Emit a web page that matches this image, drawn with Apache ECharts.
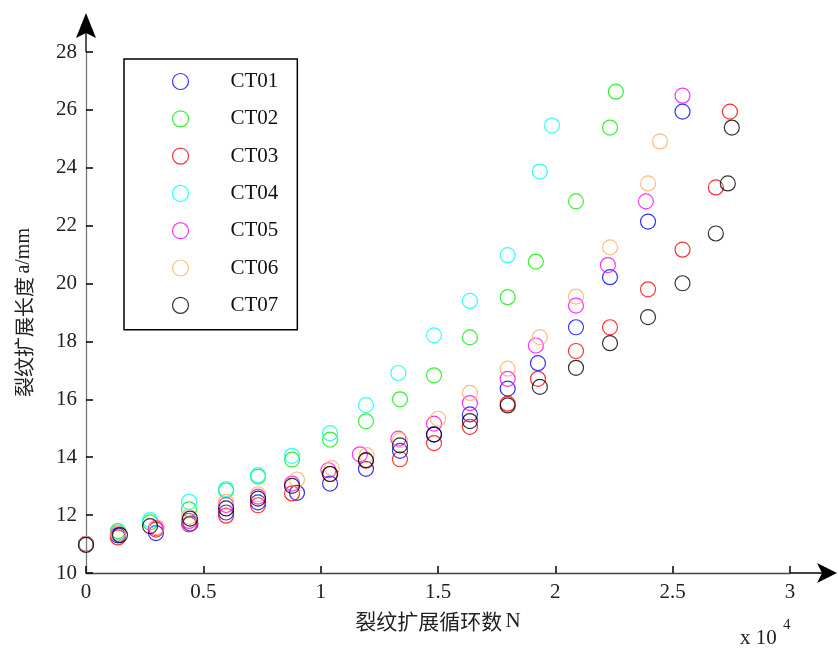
<!DOCTYPE html>
<html>
<head>
<meta charset="utf-8">
<script src="https://cdn.jsdelivr.net/npm/echarts@6/dist/echarts.min.js"></script>
<style>
  html, body { margin: 0; padding: 0; background: #fff; }
  #chart { width: 838px; height: 648px; }
</style>
</head>
<body>
<div id="chart"></div>
<script>
// x values are in units of 10^4 cycles (axis labels 0..3, "x 10^4")
const seriesNames = ['CT01', 'CT02', 'CT03', 'CT04', 'CT05', 'CT06', 'CT07'];
const seriesColors = ['#0000ff', '#00ee00', '#ff0000', '#00ffff', '#ff00ff', '#ffad60', '#000000'];

const ct01N = [0, 0.136, 0.298, 0.445, 0.597, 0.733, 0.899, 1.040, 1.193, 1.338, 1.483, 1.636, 1.797, 1.926, 2.088, 2.233, 2.395, 2.542];
const ct01A = [11.0, 11.3, 11.38, 11.71, 12.09, 12.44, 12.77, 13.09, 13.6, 14.22, 14.78, 15.48, 16.37, 17.25, 18.49, 20.22, 22.14, 25.94];

const ct02N = [0, 0.136, 0.273, 0.439, 0.597, 0.733, 0.878, 1.040, 1.193, 1.338, 1.483, 1.636, 1.797, 1.917, 2.088, 2.233, 2.258];
const ct02A = [11.0, 11.45, 11.75, 12.2, 12.85, 13.33, 13.92, 14.61, 15.24, 16.0, 16.83, 18.14, 19.53, 20.76, 22.84, 25.39, 26.63];

const ct03N = [0, 0.136, 0.298, 0.439, 0.597, 0.733, 0.878, 1.040, 1.193, 1.338, 1.483, 1.636, 1.797, 1.926, 2.088, 2.233, 2.395, 2.542, 2.684, 2.744];
const ct03A = [11.0, 11.23, 11.5, 11.68, 11.98, 12.34, 12.75, 13.42, 13.88, 13.93, 14.49, 15.05, 15.85, 16.71, 17.67, 18.49, 19.8, 21.17, 23.32, 25.94];

const ct04N = [0, 0.136, 0.273, 0.439, 0.597, 0.733, 0.878, 1.040, 1.193, 1.331, 1.483, 1.636, 1.797, 1.934, 1.986];
const ct04A = [11.0, 11.4, 11.83, 12.46, 12.9, 13.38, 14.05, 14.83, 15.8, 16.91, 18.21, 19.4, 20.98, 23.87, 25.46];

const ct05N = [0, 0.136, 0.298, 0.439, 0.597, 0.733, 0.878, 1.033, 1.167, 1.331, 1.483, 1.636, 1.797, 1.917, 2.088, 2.224, 2.386, 2.542];
const ct05A = [11.0, 11.35, 11.55, 11.8, 12.35, 12.64, 13.09, 13.55, 14.1, 14.64, 15.16, 15.87, 16.71, 17.86, 19.24, 20.64, 22.84, 26.49];

const ct06N = [0, 0.136, 0.302, 0.439, 0.597, 0.733, 0.899, 1.047, 1.196, 1.338, 1.500, 1.636, 1.797, 1.934, 2.088, 2.233, 2.395, 2.446];
const ct06A = [11.0, 11.35, 11.58, 11.94, 12.46, 12.72, 13.23, 13.62, 14.07, 14.59, 15.33, 16.22, 17.06, 18.15, 19.55, 21.25, 23.46, 24.91];

const ct07N = [0, 0.145, 0.273, 0.443, 0.597, 0.733, 0.878, 1.040, 1.193, 1.338, 1.483, 1.636, 1.797, 1.934, 2.088, 2.233, 2.395, 2.542, 2.684, 2.735, 2.752];
const ct07A = [10.97, 11.31, 11.62, 11.88, 12.23, 12.57, 13.01, 13.42, 13.9, 14.41, 14.79, 15.25, 15.79, 16.43, 17.09, 17.94, 18.84, 20.01, 21.73, 23.46, 25.39];

const xTicks = { min: 0, max: 3, interval: 0.5 };
const yTicks = { min: 10, max: 28, interval: 2 };
const xName = '{c|裂纹扩展循环数} {n|N}';
const yName = '{c|裂纹扩展长度} {n|a/mm}';

const allN = [ct01N, ct02N, ct03N, ct04N, ct05N, ct06N, ct07N];
const allA = [ct01A, ct02A, ct03A, ct04A, ct05A, ct06A, ct07A];

const serif = 'Liberation Serif';
const cjk = 'Noto Sans CJK SC';

const chart = echarts.init(document.getElementById('chart'), null, { renderer: 'canvas' });

const series = seriesNames.map((name, i) => ({
  name: name,
  type: 'scatter',
  data: allN[i].map((n, k) => [n, allA[i][k]]),
  symbol: 'circle',
  symbolSize: 15,
  clip: false,
  itemStyle: { color: 'none', borderColor: seriesColors[i], borderWidth: 1.2 },
  emphasis: { disabled: true }
}));

chart.setOption({
  animation: false,
  backgroundColor: '#ffffff',
  grid: { left: 86, right: 48, top: 52, bottom: 75 },
  legend: {
    orient: 'vertical',
    left: 124,
    top: 59,
    data: seriesNames,
    itemWidth: 90,
    itemHeight: 16,
    itemGap: 16.3,
    padding: [12, 19, 14, 46],
    borderColor: '#000',
    borderWidth: 1.5,
    borderRadius: 0,
    icon: 'circle',
    itemStyle: { borderWidth: 1.2 },
    textStyle: { fontFamily: serif, fontSize: 21, color: '#111', lineHeight: 19 },
    selectedMode: false
  },
  xAxis: {
    type: 'value',
    min: xTicks.min,
    max: xTicks.max,
    interval: xTicks.interval,
    splitLine: { show: false },
    axisLine: { show: true, lineStyle: { color: '#444', width: 1.3 } },
    axisTick: { show: true, inside: true, length: 7, lineStyle: { color: '#000', width: 1.5 } },
    axisLabel: { margin: 9, fontFamily: serif, fontSize: 21, color: '#222' },
    name: xName,
    nameLocation: 'middle',
    nameGap: 38,
    nameTextStyle: {
      color: '#222',
      rich: {
        c: { fontFamily: cjk, fontSize: 21, color: '#222' },
        n: { fontFamily: serif, fontSize: 21, color: '#222' }
      }
    }
  },
  yAxis: {
    type: 'value',
    min: yTicks.min,
    max: yTicks.max,
    interval: yTicks.interval,
    splitLine: { show: false },
    axisLine: { show: true, lineStyle: { color: '#777', width: 1.3 } },
    axisTick: { show: true, inside: true, length: 7, lineStyle: { color: '#000', width: 1.5 } },
    axisLabel: { margin: 9, fontFamily: serif, fontSize: 21, color: '#222' },
    name: yName,
    nameLocation: 'middle',
    nameGap: 52,
    nameTextStyle: {
      color: '#222',
      rich: {
        c: { fontFamily: cjk, fontSize: 20, color: '#222' },
        n: { fontFamily: serif, fontSize: 20, color: '#222' }
      }
    }
  },
  series: series
});

// Axis arrows and the "x 10^4" exponent note, placed relative to the axes' own pixel positions
const pOrigin = chart.convertToPixel({ gridIndex: 0 }, [xTicks.min, yTicks.min]);
const pXEnd = chart.convertToPixel({ gridIndex: 0 }, [xTicks.max, yTicks.min]);
const pYEnd = chart.convertToPixel({ gridIndex: 0 }, [xTicks.min, yTicks.max]);

const ox = pOrigin[0], oy = pOrigin[1];
const xe = pXEnd[0], ye = pYEnd[1];

chart.setOption({
  graphic: [
    { type: 'line', shape: { x1: xe, y1: oy, x2: xe + 34, y2: oy }, style: { stroke: '#000', lineWidth: 1.3 }, silent: true },
    { type: 'polygon', shape: { points: [[xe + 47, oy], [xe + 27, oy - 10], [xe + 32, oy], [xe + 27, oy + 10]] }, style: { fill: '#000' }, silent: true },
    { type: 'line', shape: { x1: ox, y1: ye, x2: ox, y2: ye - 22 }, style: { stroke: '#000', lineWidth: 1.3 }, silent: true },
    { type: 'polygon', shape: { points: [[ox, ye - 39], [ox + 10, ye - 14], [ox, ye - 19], [ox - 10, ye - 14]] }, style: { fill: '#000' }, silent: true },
    { type: 'text', x: xe - 50, y: oy + 55, style: { text: 'x 10', font: '21px "Liberation Serif"', fill: '#222' }, silent: true },
    { type: 'text', x: xe - 7, y: oy + 45, style: { text: '4', font: '15px "Liberation Serif"', fill: '#222' }, silent: true }
  ]
});
</script>
</body>
</html>
